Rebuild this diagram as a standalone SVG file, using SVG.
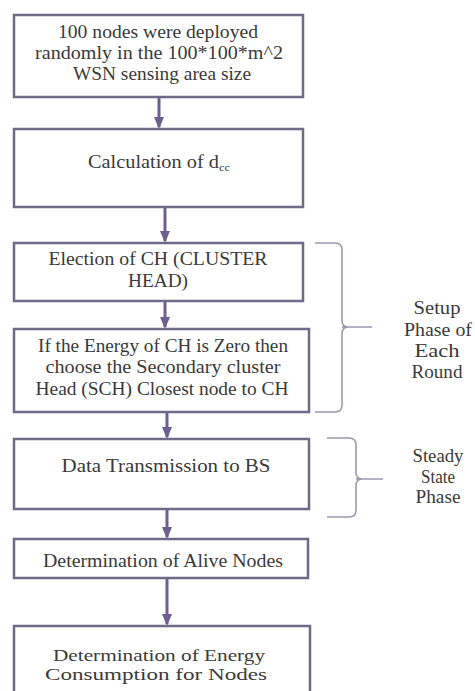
<svg xmlns="http://www.w3.org/2000/svg" width="475" height="691" viewBox="0 0 475 691">
  <style>
    .box { fill: #ffffff; stroke: #6f6a88; stroke-width: 2.5; }
    .lbl { font-family: "Liberation Serif", "Times New Roman", serif; font-size: 18px; fill: #3a3a3a; text-anchor: middle; }
    .small { font-size: 16px; }
    .flow { stroke: #6b6090; stroke-width: 3; fill: none; }
    .brace { stroke: #9d98ae; stroke-width: 1.6; fill: none; }
  </style>
  <defs>
    <marker id="head" markerWidth="12" markerHeight="10" refX="10" refY="5" orient="auto" markerUnits="userSpaceOnUse">
      <path d="M0,0 L12,5 L0,10 Z" fill="#6b6090"/>
    </marker>
  </defs>
  <rect width="475" height="691" fill="#ffffff"/>

  <g id="connectors">
    <line class="flow" x1="159" y1="98" x2="159" y2="127" marker-end="url(#head)"/>
    <line class="flow" x1="165" y1="208" x2="165" y2="241" marker-end="url(#head)"/>
    <line class="flow" x1="165" y1="302" x2="165" y2="327" marker-end="url(#head)"/>
    <line class="flow" x1="167" y1="413" x2="167" y2="437" marker-end="url(#head)"/>
    <line class="flow" x1="167" y1="510" x2="167" y2="537" marker-end="url(#head)"/>
    <line class="flow" x1="167" y1="579" x2="167" y2="624" marker-end="url(#head)"/>
  </g>

  <g id="deploy">
    <rect class="box" x="14" y="15" width="289" height="82"/>
    <text class="lbl" x="158" y="38" textLength="200" lengthAdjust="spacingAndGlyphs">100 nodes were deployed</text>
    <text class="lbl" x="159" y="59" textLength="248" lengthAdjust="spacingAndGlyphs">randomly in the 100*100*m^2</text>
    <text class="lbl" x="162" y="80" textLength="178" lengthAdjust="spacingAndGlyphs">WSN sensing area size</text>
  </g>

  <g id="calc">
    <rect class="box" x="14" y="129" width="289" height="78"/>
    <text class="lbl" x="159" y="168" textLength="142" lengthAdjust="spacingAndGlyphs">Calculation of d<tspan font-size="11" dy="3">cc</tspan></text>
  </g>

  <g id="election">
    <rect class="box" x="14" y="243" width="289" height="58"/>
    <text class="lbl" x="158" y="265" textLength="219" lengthAdjust="spacingAndGlyphs">Election of CH (CLUSTER</text>
    <text class="lbl" x="158" y="287" textLength="60" lengthAdjust="spacingAndGlyphs">HEAD)</text>
  </g>

  <g id="secondary">
    <rect class="box" x="14" y="329" width="295" height="83"/>
    <text class="lbl" x="163" y="352" textLength="250" lengthAdjust="spacingAndGlyphs">If the Energy of CH is Zero then</text>
    <text class="lbl" x="163" y="373" textLength="235" lengthAdjust="spacingAndGlyphs">choose the Secondary cluster</text>
    <text class="lbl" x="162" y="395" textLength="253" lengthAdjust="spacingAndGlyphs">Head (SCH) Closest node to CH</text>
  </g>

  <g id="transmit">
    <rect class="box" x="14" y="439" width="295" height="70"/>
    <text class="lbl" x="166" y="472" textLength="209" lengthAdjust="spacingAndGlyphs">Data Transmission to BS</text>
  </g>

  <g id="alive">
    <rect class="box" x="14" y="539" width="294" height="39"/>
    <text class="lbl" x="163" y="567" textLength="240" lengthAdjust="spacingAndGlyphs">Determination of Alive Nodes</text>
  </g>

  <g id="energy">
    <rect class="box" x="14" y="626" width="296" height="80"/>
    <text class="lbl small" x="159" y="661" textLength="212" lengthAdjust="spacingAndGlyphs">Determination of Energy</text>
    <text class="lbl small" x="156" y="680" textLength="222" lengthAdjust="spacingAndGlyphs">Consumption for Nodes</text>
  </g>

  <g id="setup-phase">
    <path class="brace" d="M315,243 H335 Q342,243 342,250 V320 Q342,327 348,327 Q342,327 342,334 V405 Q342,412 335,412 H315 M342,327 H372"/>
    <text class="lbl" x="437" y="314" textLength="47" lengthAdjust="spacingAndGlyphs">Setup</text>
    <text class="lbl" x="438" y="336" textLength="68" lengthAdjust="spacingAndGlyphs">Phase of</text>
    <text class="lbl" x="437" y="357" textLength="45" lengthAdjust="spacingAndGlyphs">Each</text>
    <text class="lbl" x="437" y="378" textLength="51" lengthAdjust="spacingAndGlyphs">Round</text>
  </g>

  <g id="steady-phase">
    <path class="brace" d="M327,438 H349 Q356,438 356,445 V472 Q356,479 362,479 Q356,479 356,486 V510 Q356,517 349,517 H327 M356,479 H383"/>
    <text class="lbl" x="438" y="462" textLength="51" lengthAdjust="spacingAndGlyphs">Steady</text>
    <text class="lbl" x="438" y="483" textLength="34" lengthAdjust="spacingAndGlyphs">State</text>
    <text class="lbl" x="438" y="503" textLength="45" lengthAdjust="spacingAndGlyphs">Phase</text>
  </g>
</svg>
